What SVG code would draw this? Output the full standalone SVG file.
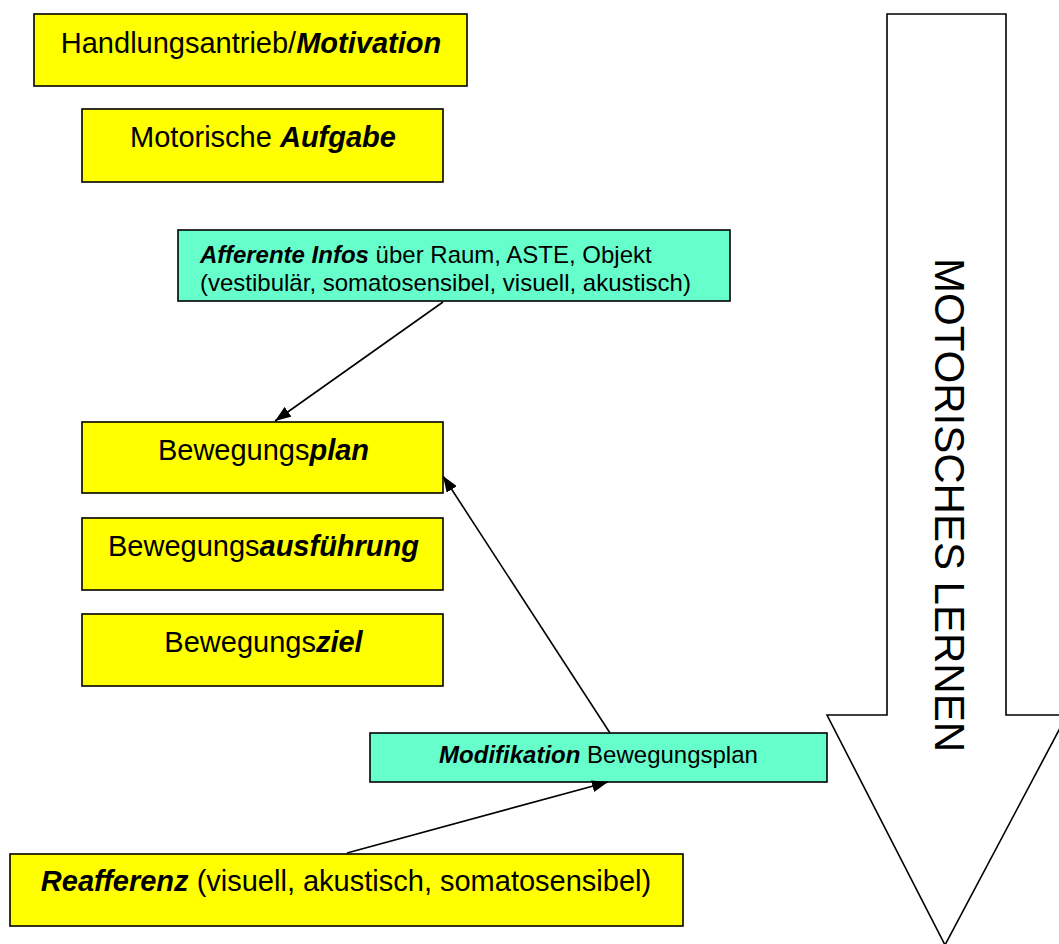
<svg xmlns="http://www.w3.org/2000/svg" width="1059" height="944" viewBox="0 0 1059 944">
  <style>
    text { font-family: "Liberation Sans", Arial, sans-serif; fill: #000; }
    .b { font-weight: bold; font-style: italic; }
    .yellow { fill: #FFFF00; stroke: #000; stroke-width: 1.6; }
    .aqua { fill: #66FFCC; stroke: #000; stroke-width: 1.6; }
    .big { font-size: 29px; }
    .mid { font-size: 24px; }
    .conn { stroke: #000; stroke-width: 1.6; fill: none; }
  </style>
  <defs>
    <marker id="ah" viewBox="0 0 10 10" refX="10" refY="5" markerWidth="10" markerHeight="9" markerUnits="userSpaceOnUse" orient="auto">
      <path d="M0,0 L10,5 L0,10 z" fill="#000"/>
    </marker>
    <marker id="ahl" viewBox="0 0 16 12" refX="16" refY="6" markerWidth="16" markerHeight="12" markerUnits="userSpaceOnUse" orient="auto">
      <path d="M0,0 L16,6 L0,12 z" fill="#000"/>
    </marker>
    <clipPath id="clipAff">
      <rect x="178" y="230" width="552" height="70"/>
    </clipPath>
  </defs>

  <g id="bigArrow">
    <polygon points="887,14 1006,14 1006,715 1067,715 945,945 827,715 887,715" fill="#FFFFFF" stroke="#000" stroke-width="1.6"/>
    <text transform="translate(935,505) rotate(90)" text-anchor="middle" font-size="42">MOTORISCHES LERNEN</text>
  </g>

  <g id="motivation">
    <rect class="yellow" x="34" y="14" width="433" height="72"/>
    <text class="big" x="251" y="53" text-anchor="middle">Handlungsantrieb/<tspan class="b">Motivation</tspan></text>
  </g>

  <g id="aufgabe">
    <rect class="yellow" x="82" y="109" width="361" height="73"/>
    <text class="big" x="263" y="147" text-anchor="middle">Motorische <tspan class="b">Aufgabe</tspan></text>
  </g>

  <g id="afferente">
    <rect class="aqua" x="178" y="230" width="552" height="71"/>
    <g clip-path="url(#clipAff)">
      <text class="mid" x="200" y="263"><tspan class="b">Afferente Infos</tspan> über Raum, ASTE, Objekt</text>
      <text class="mid" x="200" y="291">(vestibulär, somatosensibel, visuell, akustisch)</text>
    </g>
  </g>

  <g id="plan">
    <rect class="yellow" x="82" y="422" width="361" height="71"/>
    <text class="big" x="263.5" y="460" text-anchor="middle">Bewegungs<tspan class="b">plan</tspan></text>
  </g>

  <g id="ausfuehrung">
    <rect class="yellow" x="82" y="518" width="361" height="72"/>
    <text class="big" x="263.5" y="556" text-anchor="middle">Bewegungs<tspan class="b">ausführung</tspan></text>
  </g>

  <g id="ziel">
    <rect class="yellow" x="82" y="614" width="361" height="72"/>
    <text class="big" x="263.5" y="652" text-anchor="middle">Bewegungs<tspan class="b">ziel</tspan></text>
  </g>

  <g id="modifikation">
    <rect class="aqua" x="370" y="733" width="457" height="49"/>
    <text class="mid" x="598.5" y="763" text-anchor="middle"><tspan class="b">Modifikation</tspan> Bewegungsplan</text>
  </g>

  <g id="reafferenz">
    <rect class="yellow" x="10" y="854" width="673" height="72"/>
    <text class="big" x="346" y="891" text-anchor="middle"><tspan class="b">Reafferenz</tspan> (visuell, akustisch, somatosensibel)</text>
  </g>

  <g id="connectors">
    <line class="conn" x1="443" y1="302" x2="275" y2="421" marker-end="url(#ahl)"/>
    <line class="conn" x1="610" y1="733" x2="443" y2="476" marker-end="url(#ahl)"/>
    <line class="conn" x1="347" y1="853" x2="608" y2="782" marker-end="url(#ahl)"/>
  </g>
</svg>
